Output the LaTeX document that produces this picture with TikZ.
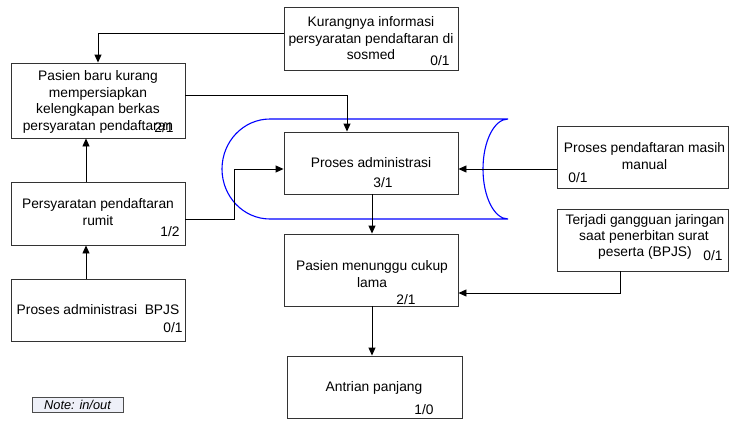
\documentclass[tikz,border=0pt]{standalone}
\usepackage{fontspec}
\setmainfont{Liberation Sans}
\usetikzlibrary{arrows.meta}
\definecolor{notefill}{HTML}{EEF0F8}
\begin{document}
\begin{tikzpicture}[x=1pt,y=-1pt,
  box/.style={draw=black!80,line width=0.9pt,fill=white,rectangle,inner sep=0pt},
  txt/.style={font=\fontsize{13.8}{16.5}\selectfont,align=center,inner sep=0pt},
  num/.style={font=\fontsize{13.8}{16.5}\selectfont,inner sep=0pt},
  arr/.style={line width=0.9pt,-{Triangle[length=8pt,width=7pt]}},
  cyl/.style={draw=blue,line width=1.1pt}]
\useasboundingbox (0,0) rectangle (729,432);
% cylinder
\draw[cyl] (270,119) -- (508,119)
  arc[start angle=270,end angle=90,x radius=25,y radius=50]
  -- (270,219)
  arc[start angle=90,end angle=270,x radius=48,y radius=50];
% boxes
\node[box,minimum width=174,minimum height=63] (K) at (371,38.5) {};
\node[box,minimum width=174,minimum height=75] (A) at (98,100.5) {};
\node[box,minimum width=174,minimum height=63] (B) at (98,213.5) {};
\node[box,minimum width=174,minimum height=62] (C) at (98,310) {};
\node[box,minimum width=174,minimum height=62] (D) at (371,163) {};
\node[box,minimum width=171,minimum height=62] (M) at (642.5,157) {};
\node[box,minimum width=171,minimum height=62] (T) at (642.5,240) {};
\node[box,minimum width=174,minimum height=72] (E) at (371,270) {};
\node[box,minimum width=175,minimum height=62] (F) at (374.5,387) {};
\node[draw=black!70,line width=0.6pt,fill=notefill,minimum width=91,minimum height=15,inner sep=0pt] (N) at (77.5,404.5) {};
% texts
\node[txt] (Kt) at (371,38.5) {Kurangnya informasi\\persyaratan pendaftaran di\\sosmed};
\node[num] (Kn) at (440,61) {0/1};
\node[txt] (At) at (98,102) {Pasien baru kurang\\mempersiapkan\\kelengkapan berkas\\persyaratan pendaftaran};
\node[num] (An) at (164,128) {2/1};
\node[txt] (Bt) at (98,212) {Persyaratan pendaftaran\\rumit};
\node[num] (Bn) at (170,232) {1/2};
\node[txt] (Ct) at (98,310) {Proses administrasi\ \ BPJS};
\node[num] (Cn) at (173,328) {0/1};
\node[txt] (Dt) at (371,163) {Proses administrasi};
\node[num] (Dn) at (383,183) {3/1};
\node[txt] (Mt) at (644.5,156) {Proses pendaftaran masih\\manual};
\node[num] (Mn) at (578,178) {0/1};
\node[txt] (Tt1) at (645,221) {Terjadi gangguan jaringan};
\node[txt] (Tt2) at (644,237) {saat penerbitan surat};
\node[txt] (Tt3) at (645,253) {peserta (BPJS)};
\node[num] (Tn) at (713,256) {0/1};
\node[txt] (Et) at (372,274) {Pasien menunggu cukup\\lama};
\node[num] (En) at (406,300) {2/1};
\node[txt] (Ft) at (374,388) {Antrian panjang};
\node[num] (Fn) at (424,410) {1/0};
\node[font=\fontsize{12.8}{14}\selectfont\itshape,inner sep=0pt] (Nt) at (77.5,404.5) {Note: in/out};
% connectors
\draw[arr] (K.west |- 0,33) -| (A.north);
\draw[arr] (B.north -| 86,0) -- (A.south -| 86,0);
\draw[arr] (C.north -| 86,0) -- (B.south -| 86,0);
\draw[arr] (A.east |- 0,95) -| (D.north -| 347,0);
\draw[arr] (B.east |- 0,219) -- (234,219) |- (D.west |- 0,169);
\draw[arr] (M.west |- 0,169) -- (D.east |- 0,169);
\draw[arr] (D.south -| 372,0) -- (E.north -| 372,0);
\draw[arr] (T.south -| 620,0) |- (E.east |- 0,293);
\draw[arr] (E.south -| 372,0) -- (F.north -| 372,0);
\end{tikzpicture}
\end{document}
